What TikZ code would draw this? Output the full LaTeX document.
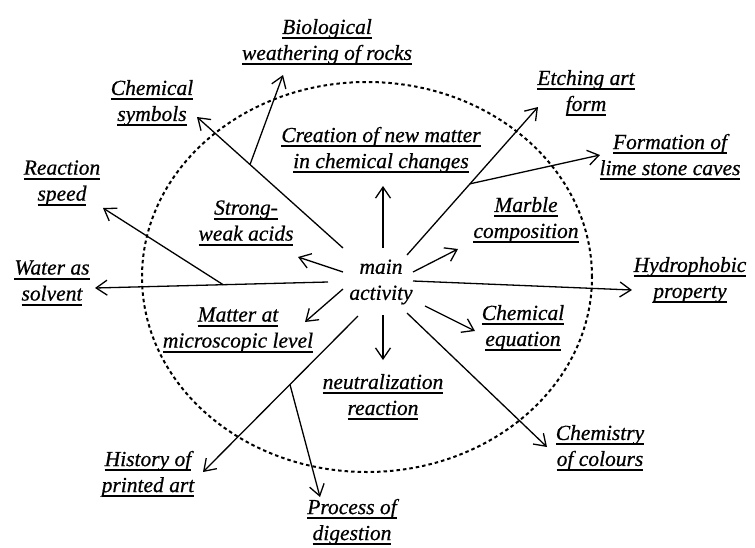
\documentclass[tikz,border=0pt]{standalone}
\usepackage{fontspec}
\setmainfont{Liberation Serif}[FakeBold=0.6]
\usetikzlibrary{arrows.meta}
\newcommand\uln[1]{\setbox0\hbox{#1}\rlap{\rule[-5pt]{\wd0}{2pt}}\box0}
\begin{document}
\begin{tikzpicture}[x=1pt,y=-1pt,
  lbl/.style={font=\fontsize{21.5}{26}\selectfont\itshape, align=center, inner sep=0pt},
  arr/.style={-{Straight Barb[length=11pt,width=15pt]}, line width=1.3pt},
  ln/.style={line width=1.3pt}]
\useasboundingbox (0,0) rectangle (755,547);
\draw[line width=2pt, dash pattern=on 3.5pt off 3pt] (367,277) ellipse [x radius=225pt, y radius=195pt];

\node[lbl] (main) at (381,282) {main\\activity};

\node[lbl] (bio) at (327,42) {\uln{Biological}\\\uln{weathering of rocks}};
\node[lbl] (sym) at (152,103) {\uln{Chemical}\\\uln{symbols}};
\node[lbl] (cre) at (381,150) {\uln{Creation of new matter}\\\uln{in chemical changes}};
\node[lbl] (etc) at (586,93) {\uln{Etching art}\\\uln{form}};
\node[lbl] (for) at (670,157) {\uln{Formation of}\\\uln{lime stone caves}};
\node[lbl] (rea) at (62,183) {\uln{Reaction}\\\uln{speed}};
\node[lbl] (str) at (246,223) {\uln{Strong-}\\\uln{weak acids}};
\node[lbl] (mar) at (526,220) {\uln{Marble}\\\uln{composition}};
\node[lbl] (wat) at (52,283) {\uln{Water as}\\\uln{solvent}};
\node[lbl] (hyd) at (690,280) {\uln{Hydrophobic}\\\uln{property}};
\node[lbl] (mat) at (238,330) {\uln{Matter at}\\\uln{microscopic level}};
\node[lbl] (ceq) at (523,328) {\uln{Chemical}\\\uln{equation}};
\node[lbl] (neu) at (383,397) {\uln{neutralization}\\\uln{reaction}};
\node[lbl] (col) at (600,448) {\uln{Chemistry}\\\uln{of colours}};
\node[lbl] (his) at (148,474) {\uln{History of}\\\uln{printed art}};
\node[lbl] (pro) at (352,522) {\uln{Process of}\\\uln{digestion}};

\coordinate (tCre) at (383,186);
\coordinate (tStr) at (298,257);
\coordinate (tMar) at (458,249);
\coordinate (tMat) at (305,322);
\coordinate (tNeu) at (383,360);
\coordinate (tCeq) at (475,331);
\coordinate (tSym) at (197,117);
\coordinate (tBio) at (283,75);
\coordinate (tEtc) at (538,107);
\coordinate (tFor) at (600,155);
\coordinate (tWat) at (95,288);
\coordinate (tRea) at (103,208);
\coordinate (tHyd) at (632,290);
\coordinate (tCol) at (547,447);
\coordinate (tHis) at (203,472);
\coordinate (tPro) at (320,497);

\draw[arr] ([shift={(2,-34)}]main.center) -- (tCre);
\draw[arr] ([shift={(-38,-10)}]main.center) -- (tStr);
\draw[arr] ([shift={(32,-10)}]main.center) -- (tMar);
\draw[arr] ([shift={(-38,7)}]main.center) -- (tMat);
\draw[arr] ([shift={(2,33)}]main.center) -- (tNeu);
\draw[arr] ([shift={(44,24)}]main.center) -- (tCeq);
\draw[arr] ([shift={(-38,-34)}]main.center) -- coordinate[pos=0.637] (bBio) (tSym);
\draw[arr] (bBio) -- (tBio);
\draw[arr] ([shift={(26,-27)}]main.center) -- coordinate[pos=0.481] (bFor) (tEtc);
\draw[arr] (bFor) -- (tFor);
\draw[arr] ([shift={(-53,0)}]main.center) -- coordinate[pos=0.45] (bRea) (tWat);
\draw[arr] (bRea) -- (tRea);
\draw[arr] ([shift={(32,-1)}]main.center) -- (tHyd);
\draw[arr] ([shift={(26,31)}]main.center) -- (tCol);
\draw[arr] ([shift={(-23,34)}]main.center) -- coordinate[pos=0.439] (bPro) (tHis);
\draw[arr] (bPro) -- (tPro);
\end{tikzpicture}
\end{document}
